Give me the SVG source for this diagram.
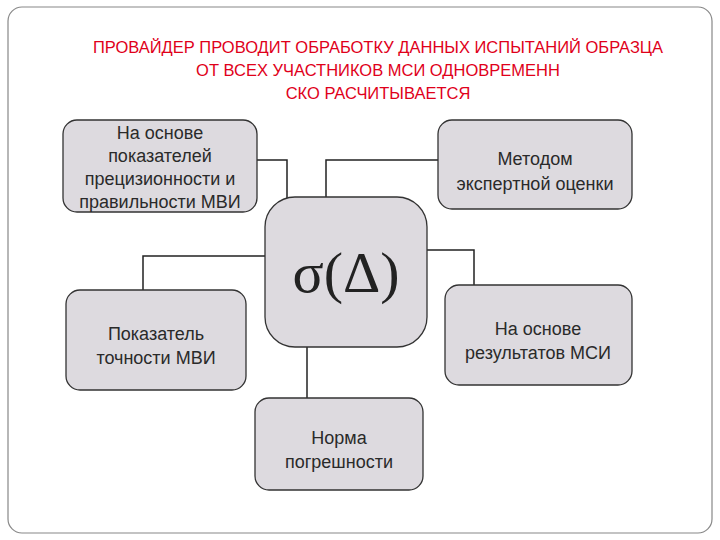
<svg xmlns="http://www.w3.org/2000/svg" width="720" height="540" viewBox="0 0 720 540">
<style>
.box{fill:#dddadf;stroke:#333;stroke-width:1.3}
.t{font-family:"Liberation Sans",Arial,sans-serif;font-size:18px;fill:#2a2a2a;text-anchor:middle}
.h{font-family:"Liberation Sans",Arial,sans-serif;font-size:16.5px;fill:#e0001a;text-anchor:middle}
.c{fill:none;stroke:#222;stroke-width:1.5}
</style>
<rect x="0" y="0" width="720" height="540" fill="#fff"/>
<rect x="8" y="7" width="704" height="526" rx="14" fill="#fff" stroke="#888" stroke-width="1.2"/>
<g id="title">
<text class="h" x="378" y="53">ПРОВАЙДЕР ПРОВОДИТ ОБРАБОТКУ ДАННЫХ ИСПЫТАНИЙ ОБРАЗЦА</text>
<text class="h" x="378" y="76">ОТ ВСЕХ УЧАСТНИКОВ МСИ ОДНОВРЕМЕНН</text>
<text class="h" x="378" y="99">СКО РАСЧИТЫВАЕТСЯ</text>
</g>
<g id="connectors">
<polyline class="c" points="257,160 287,160 287,198"/>
<polyline class="c" points="438,160 326,160 326,198"/>
<polyline class="c" points="265,256 143,256 143,290"/>
<polyline class="c" points="427,250 474,250 474,286"/>
<polyline class="c" points="307,347 307,398"/>
</g>
<g id="n1"><rect class="box" x="63" y="120" width="194" height="92" rx="14"/>
<text class="t" x="160" y="139">На основе</text><text class="t" x="160" y="162">показателей</text><text class="t" x="160" y="185">прецизионности и</text><text class="t" x="160" y="208">правильности МВИ</text></g>
<g id="n2"><rect class="box" x="438" y="120" width="194" height="89" rx="14"/>
<text class="t" x="535" y="165">Методом</text><text class="t" x="535" y="190">экспертной оценки</text></g>
<g id="center"><rect class="box" x="265" y="197" width="162" height="150" rx="30"/>
<text x="346" y="292" style="font-family:'Liberation Serif',serif;font-size:58px;fill:#222;text-anchor:middle">σ(Δ)</text></g>
<g id="n3"><rect class="box" x="66" y="290" width="180" height="100" rx="14"/>
<text class="t" x="156" y="340">Показатель</text><text class="t" x="156" y="364">точности МВИ</text></g>
<g id="n4"><rect class="box" x="445" y="285" width="187" height="100" rx="14"/>
<text class="t" x="538" y="335">На основе</text><text class="t" x="538" y="359">результатов МСИ</text></g>
<g id="n5"><rect class="box" x="255" y="398" width="168" height="92" rx="14"/>
<text class="t" x="339" y="444">Норма</text><text class="t" x="339" y="468">погрешности</text></g>
</svg>
